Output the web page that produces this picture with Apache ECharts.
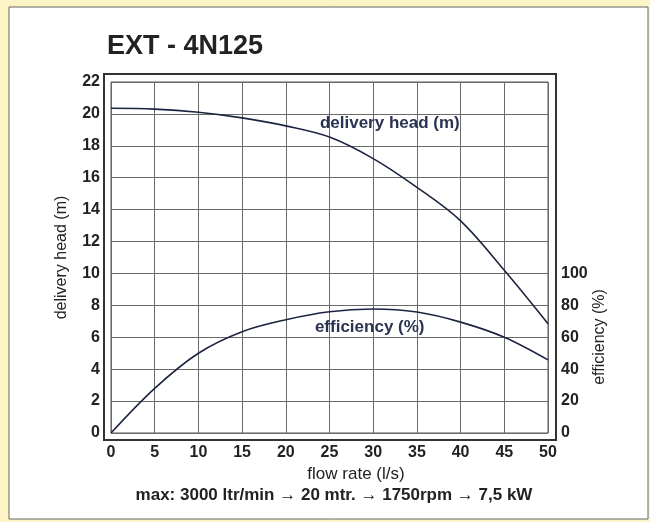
<!DOCTYPE html>
<html>
<head>
<meta charset="utf-8">
<script src="https://cdn.jsdelivr.net/npm/echarts@6/dist/echarts.min.js"></script>
<style>
  html, body { margin: 0; padding: 0; background: #fcf4c4; }
  #main { width: 650px; height: 522px; }
</style>
</head>
<body>
<div id="main"></div>
<script>
// pump curve EXT - 4N125
var flowRate = [0, 5, 10, 15, 20, 25, 30, 35, 40, 45, 50]
var deliveryHead = [20.35, 20.3, 20.1, 19.75, 19.25, 18.55, 17.2, 15.4, 13.3, 10.2, 6.85]
var efficiency = [0, 28, 50, 63.5, 71, 76, 77.7, 75.8, 69.5, 60, 45.8]

var lineColor = '#1c2540'
var labelColor = '#2b3352'
var font = 'Liberation Sans, Arial, sans-serif'

var headData = flowRate.map(function (x, i) { return [x, deliveryHead[i]] })
var effData = flowRate.map(function (x, i) { return [x, efficiency[i]] })

var myChart = echarts.init(document.getElementById('main'))

var option = {
  backgroundColor: '#fcf4c4',
  animation: false,
  textStyle: { fontFamily: font },
  graphic: [
    {
      type: 'rect',
      z: -10,
      shape: { x: 9, y: 7, width: 639, height: 512 },
      style: { fill: '#ffffff', stroke: '#666', lineWidth: 1 }
    },
    {
      type: 'text',
      x: 600,
      y: 337,
      rotation: Math.PI / 2,
      style: {
        text: 'efficiency (%)',
        fill: '#222',
        font: '16px ' + font,
        align: 'center',
        verticalAlign: 'middle'
      }
    },
    {
      type: 'text',
      x: 334,
      y: 495,
      style: {
        text: 'max: 3000 ltr/min \u2192 20 mtr. \u2192 1750rpm \u2192 7,5 kW',
        fill: '#222',
        font: 'bold 17px ' + font,
        align: 'center',
        verticalAlign: 'middle'
      }
    }
  ],
  title: {
    text: 'EXT - 4N125',
    left: 102,
    top: 28,
    textStyle: { fontSize: 27, fontWeight: 'bold', color: '#222', fontFamily: font }
  },
  grid: [
    {
      left: 111, top: 82, width: 437, height: 351,
      show: true, borderColor: '#555', borderWidth: 1
    },
    {
      left: 104, top: 74, width: 452, height: 366,
      show: true, borderColor: '#333', borderWidth: 2
    }
  ],
  xAxis: [
    {
      type: 'value',
      min: 0, max: 50, interval: 5,
      name: 'flow rate (l/s)',
      nameLocation: 'middle',
      nameGap: 33,
      nameTextStyle: { fontSize: 17, color: '#222', padding: [0, 0, 0, 53] },
      axisLine: { show: false },
      axisTick: { show: false },
      axisLabel: { fontSize: 16, fontWeight: 'bold', color: '#222', margin: 12 },
      splitLine: { lineStyle: { color: '#6a6a6a', width: 1 } }
    },
    { gridIndex: 1, type: 'value', show: false, splitLine: { show: false } }
  ],
  yAxis: [
    {
      type: 'value',
      min: 0, max: 22, interval: 2,
      name: 'delivery head (m)',
      nameLocation: 'middle',
      nameGap: 41,
      nameTextStyle: { fontSize: 16, color: '#222' },
      axisLine: { show: false },
      axisTick: { show: false },
      axisLabel: { fontSize: 16, fontWeight: 'bold', color: '#222', margin: 11 },
      splitLine: { lineStyle: { color: '#6a6a6a', width: 1 } }
    },
    {
      type: 'value',
      position: 'right',
      min: 0, max: 220, interval: 20,
      axisLine: { show: false },
      axisTick: { show: false },
      splitLine: { show: false },
      axisLabel: {
        fontSize: 16, fontWeight: 'bold', color: '#222', margin: 13,
        formatter: function (v) { return v <= 100 ? v : '' }
      }
    },
    { gridIndex: 1, type: 'value', show: false, splitLine: { show: false } }
  ],
  series: [
    {
      name: 'delivery head (m)',
      type: 'line',
      smooth: 0.35,
      symbol: 'none',
      data: headData,
      lineStyle: { color: lineColor, width: 1.6 },
      markPoint: {
        symbol: 'circle',
        symbolSize: 0,
        silent: true,
        label: {
          show: true, position: 'inside', formatter: '{b}',
          fontSize: 17, fontWeight: 'bold', color: labelColor
        },
        data: [{ name: 'delivery head (m)', coord: [31.9, 19.4] }]
      }
    },
    {
      name: 'efficiency (%)',
      type: 'line',
      yAxisIndex: 1,
      smooth: 0.35,
      symbol: 'none',
      data: effData,
      lineStyle: { color: lineColor, width: 1.6 },
      markPoint: {
        symbol: 'circle',
        symbolSize: 0,
        silent: true,
        label: {
          show: true, position: 'inside', formatter: '{b}',
          fontSize: 17, fontWeight: 'bold', color: labelColor
        },
        data: [{ name: 'efficiency (%)', coord: [29.6, 66.5] }]
      }
    }
  ]
}

myChart.setOption(option)
</script>
</body>
</html>
